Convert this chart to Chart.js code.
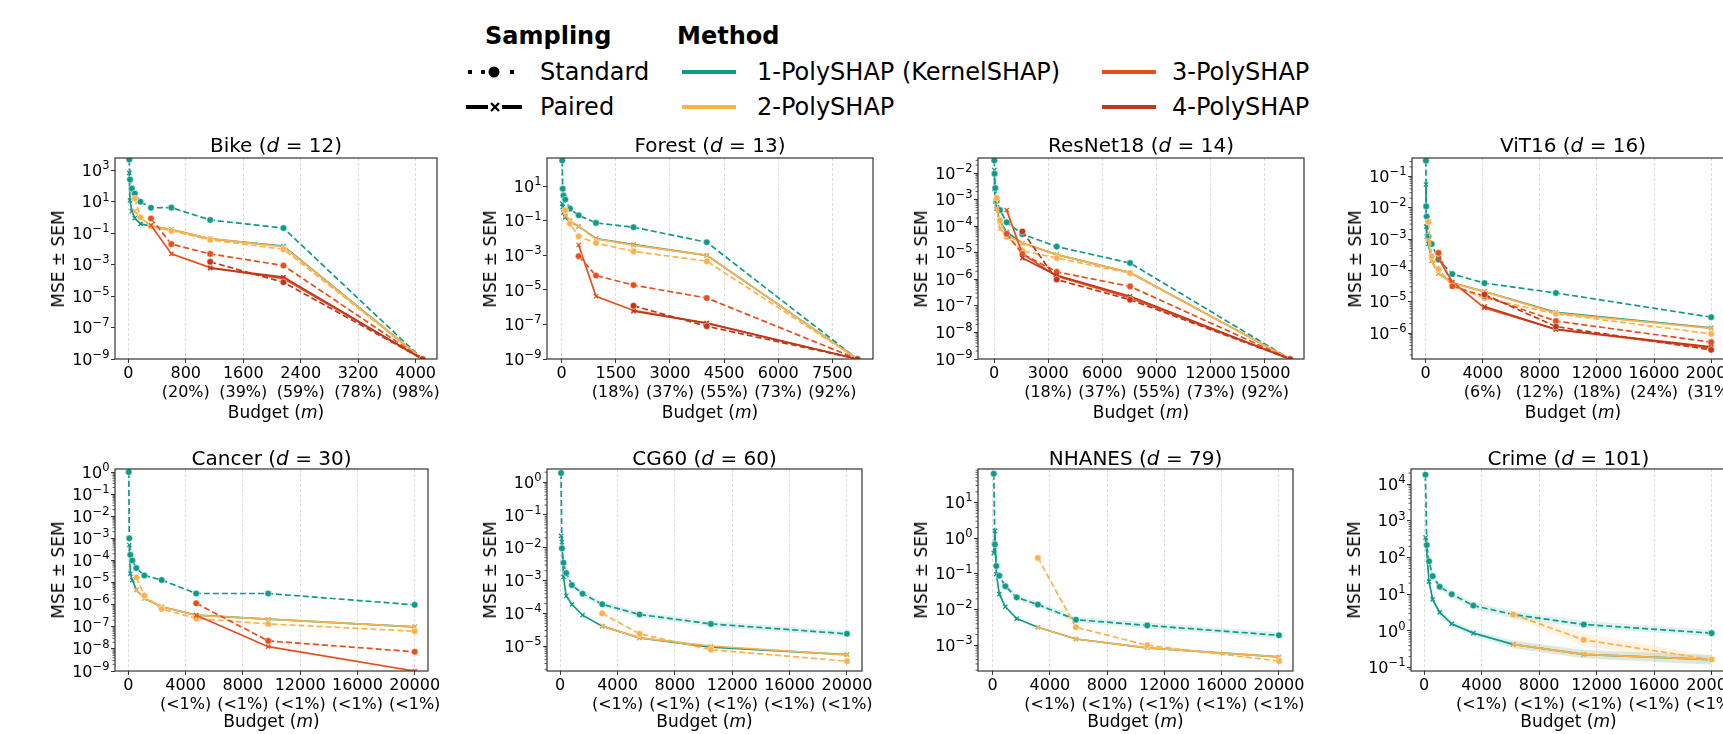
<!DOCTYPE html>
<html>
<head>
<meta charset="utf-8">
<script src="https://cdn.jsdelivr.net/npm/chart.js@4.4.1/dist/chart.umd.min.js"></script>
<style>
  html, body { margin: 0; padding: 0; background: #fff; }
  body { width: 1723px; height: 734px; overflow: hidden; position: relative; font-family: 'DejaVu Sans', sans-serif; color: #000; }
  canvas { position: absolute; }
  .t { position: absolute; white-space: nowrap; transform: translate(-50%, -50%); }
  .ptitle { font-size: 20px; }
  .xlab { font-size: 17px; }
  .ylab { font-size: 17px; transform: translate(-50%, -50%) rotate(-90deg); }
  .leg { position: absolute; white-space: nowrap; font-size: 24px; transform: translateY(-50%); }
  .sw { position: absolute; height: 4px; width: 54px; }
  svg { position: absolute; }
</style>
</head>
<body>

<div class="leg" style="left:485px;top:36px"><b>Sampling</b></div>
<div class="leg" style="left:677px;top:36px"><b>Method</b></div>

<svg style="left:465px;top:64px" width="58" height="16">
  <rect x="3" y="6" width="4" height="4" fill="#000"/>
  <rect x="16" y="6" width="4" height="4" fill="#000"/>
  <circle cx="29" cy="8" r="5.5" fill="#000"/>
  <rect x="45" y="6" width="4" height="4" fill="#000"/>
</svg>
<div class="leg" style="left:540px;top:72px">Standard</div>
<svg style="left:465px;top:99px" width="58" height="16">
  <rect x="1" y="6" width="22" height="4" fill="#000"/>
  <path d="M26 4 L34 12 M34 4 L26 12" stroke="#000" stroke-width="2.4"/>
  <rect x="37" y="6" width="20" height="4" fill="#000"/>
</svg>
<div class="leg" style="left:540px;top:107px">Paired</div>

<div class="sw" style="left:682px;top:70px;background:#109a89"></div>
<div class="leg" style="left:757px;top:72px">1-PolySHAP (KernelSHAP)</div>
<div class="sw" style="left:682px;top:105px;background:#fdb14d"></div>
<div class="leg" style="left:757px;top:107px">2-PolySHAP</div>
<div class="sw" style="left:1102px;top:70px;background:#e84e1c"></div>
<div class="leg" style="left:1172px;top:72px">3-PolySHAP</div>
<div class="sw" style="left:1102px;top:105px;background:#c0371a"></div>
<div class="leg" style="left:1172px;top:107px">4-PolySHAP</div>

<script>
// ---- data ----
// each *Standard / *Paired holds one array per method: 1-, 2-, 3-, 4-PolySHAP
const bikeBudget = [14, 24, 50, 90, 170, 316, 600, 1140, 2160, 4094];
const bikeStandard = [
  [4800, 256, 68, 33, 9.9, 4.1, 4.2, 0.69, 0.21, 1e-9],
  [null, null, null, 16, 1.0, 0.28, 0.14, 0.038, 0.0095, 1e-9],
  [null, null, null, null, null, 0.85, 0.02, 0.0048, 8.7e-4, 1e-9],
  [null, null, null, null, null, null, null, 1.5e-3, 7.5e-5, 1e-9]
];
const bikePaired = [
  [680, 12, 2.5, 0.9, 0.39, 0.28, 0.17, 0.043, 0.015, 1e-9],
  [null, null, null, 2.5, 0.95, 0.3, 0.16, 0.045, 0.014, 1e-9],
  [null, null, null, null, null, 0.32, 0.0048, 6.5e-4, 1.3e-4, 1e-9],
  [null, null, null, null, null, null, null, 6e-4, 1.6e-4, 1e-9]
];
const bikeYTicks = [3, 1, -1, -3, -5, -7, -9];
const bikeXTicks = [0, 800, 1600, 2400, 3200, 4000];
const bikeXShares = ['', '(20%)', '(39%)', '(59%)', '(78%)', '(98%)'];

const forestBudget = [15, 28, 50, 100, 230, 470, 950, 1990, 4020, 8192];
const forestStandard = [
  [316, 7.3, 2.9, 1.7, 0.51, 0.21, 0.076, 0.043, 0.0058, 1e-9],
  [null, null, null, 0.41, 0.069, 0.0126, 0.0052, 0.0017, 4.6e-4, 1e-9],
  [null, null, null, null, null, 9e-4, 6.8e-5, 1.9e-5, 3.4e-6, 1e-9],
  [null, null, null, null, null, null, null, 1.2e-6, 7.9e-8, 1e-9]
];
const forestPaired = [
  [1.0, 0.63, 0.3, 0.16, 0.09, 0.048, 0.0095, 0.0042, 0.001, 1e-9],
  [null, null, null, 0.2, 0.11, 0.048, 0.009, 0.0039, 0.001, 1e-9],
  [null, null, null, null, null, 0.004, 4.3e-6, 6.5e-7, 1.2e-7, 1e-9],
  [null, null, null, null, null, null, null, 5.8e-7, 1.2e-7, 1e-9]
];
const forestYTicks = [1, -1, -3, -5, -7, -9];
const forestXTicks = [0, 1500, 3000, 4500, 6000, 7500];
const forestXShares = ['', '(18%)', '(37%)', '(55%)', '(73%)', '(92%)'];

const resnetBudget = [16, 30, 70, 150, 330, 700, 1570, 3470, 7530, 16384];
const resnetStandard = [
  [0.030, 0.0094, 0.0027, 9e-4, 4e-4, 1.4e-4, 5e-5, 1.7e-5, 4.1e-6, 1e-9],
  [null, null, null, 1.15e-3, 1.65e-4, 4e-5, 1.2e-5, 6.3e-6, 1.7e-6, 1e-9],
  [null, null, null, null, null, 5.2e-5, 9e-6, 1.9e-6, 5.4e-7, 1e-9],
  [null, null, null, null, null, null, 6.3e-5, 9.8e-7, 1.7e-7, 1e-9]
];
const resnetPaired = [
  [0.013, 2.5e-3, 8.5e-4, 4.5e-4, 1.5e-4, 6e-5, 2.3e-5, 8.5e-6, 1.8e-6, 1e-9],
  [null, null, null, 4.8e-4, 8e-5, 4.5e-5, 2.3e-5, 8.5e-6, 1.8e-6, 1e-9],
  [null, null, null, null, null, 4e-4, 9e-6, 1.3e-6, 2e-7, 1e-9],
  [null, null, null, null, null, null, 6.3e-6, 1.4e-6, 2.3e-7, 1e-9]
];
const resnetYTicks = [-2, -3, -4, -5, -6, -7, -8, -9];
const resnetXTicks = [0, 3000, 6000, 9000, 12000, 15000];
const resnetXShares = ['', '(18%)', '(37%)', '(55%)', '(73%)', '(92%)'];

const vitBudget = [17, 35, 70, 190, 420, 890, 1870, 4120, 9120, 20000];
const vitStandard = [
  [0.316, 0.011, 0.0052, 1.2e-3, 6.9e-4, 2.2e-4, 7.6e-5, 3.9e-5, 1.9e-5, 3.2e-6],
  [null, null, null, 3.5e-3, 2.8e-4, 1.1e-4, 3.2e-5, 1.3e-5, 4.1e-6, 9.4e-7],
  [null, null, null, null, null, 3.6e-4, 3.1e-5, 1.5e-5, 2.4e-6, 5.1e-7],
  [null, null, null, null, null, null, null, 1.7e-5, 1.6e-6, 2.9e-7]
];
const vitPaired = [
  [0.055, 2.5e-3, 1.2e-3, 7e-4, 2e-4, 8e-5, 4e-5, 2.1e-5, 4.6e-6, 1.45e-6],
  [null, null, null, 9.5e-4, 2e-4, 8e-5, 3.9e-5, 2.1e-5, 4.3e-6, 1.4e-6],
  [null, null, null, null, null, 2.4e-4, 4.3e-5, 6.3e-6, 1.3e-6, 3.3e-7],
  [null, null, null, null, null, null, null, 7e-6, 1.3e-6, 3.6e-7]
];
const vitYTicks = [-1, -2, -3, -4, -5, -6];
const vitXTicks = [0, 4000, 8000, 12000, 16000, 20000];
const vitXShares = ['', '(6%)', '(12%)', '(18%)', '(24%)', '(31%)'];

const largeXTicks = [0, 4000, 8000, 12000, 16000, 20000];
const largeXShares = ['', '(<1%)', '(<1%)', '(<1%)', '(<1%)', '(<1%)'];

const cancerBudget = [31, 70, 140, 280, 560, 1120, 2330, 4740, 9770, 20000];
const cancerStandard = [
  [1.0, 1e-3, 1.8e-4, 1e-4, 4.5e-5, 2.1e-5, 1.3e-5, 3.2e-6, 3.2e-6, 9.8e-7],
  [null, null, null, null, 1.7e-5, 2.6e-6, 6.4e-7, 2.4e-7, 1.35e-7, 6.3e-8],
  [null, null, null, null, null, null, null, 1.15e-6, 2.3e-8, 7.4e-9]
];
const cancerPaired = [
  [null, 5e-4, 2.5e-5, 1.3e-5, 4.7e-6, 1.9e-6, 8e-7, 3.4e-7, 2.2e-7, 1e-7],
  [null, null, null, null, 4.7e-6, 1.9e-6, 8e-7, 3.3e-7, 2.2e-7, 1e-7],
  [null, null, null, null, null, null, null, 3.3e-7, 1.26e-8, 1e-9]
];
const cancerYTicks = [0, -1, -2, -3, -4, -5, -6, -7, -8, -9];

const cg60Budget = [61, 120, 230, 420, 815, 1560, 2930, 5535, 10510, 20000];
const cg60Standard = [
  [1.88, 9.6e-3, 3.5e-3, 1.7e-3, 7.3e-4, 4e-4, 1.9e-4, 9.3e-5, 4.8e-5, 2.4e-5],
  [null, null, null, null, null, null, 1e-4, 2.4e-5, 7.9e-6, 3.5e-6]
];
const cg60Paired = [
  [0.023, 0.015, 1.3e-3, 3.4e-4, 1.9e-4, 8.9e-5, 4.1e-5, 1.8e-5, 9.5e-6, 5.6e-6],
  [null, null, null, null, null, null, 4.1e-5, 1.8e-5, 1.02e-5, 5.5e-6]
];
const cg60Std1Low  = [1.5, 7.8e-3, 2.9e-3, 1.4e-3, 6e-4, 3.3e-4, 1.55e-4, 7.6e-5, 3.9e-5, 1.95e-5];
const cg60Std1High = [2.3, 1.18e-2, 4.3e-3, 2.1e-3, 9e-4, 4.9e-4, 2.3e-4, 1.14e-4, 5.9e-5, 2.95e-5];
const cg60YTicks = [0, -1, -2, -3, -4, -5];

const nhanesBudget = [80, 160, 260, 470, 890, 1680, 3160, 5820, 10800, 20000];
const nhanesStandard = [
  [64, 0.67, 0.166, 0.089, 0.045, 0.022, 0.0138, 0.0052, 3.6e-3, 1.9e-3],
  [null, null, null, null, null, null, 0.28, 3.2e-3, 1e-3, 3.6e-4]
];
const nhanesPaired = [
  [0.38, 1.6, 0.098, 0.027, 0.012, 5.6e-3, 3.2e-3, 1.5e-3, 8.5e-4, 4.7e-4],
  [null, null, null, null, null, null, 3.2e-3, 1.5e-3, 8.5e-4, 4.7e-4]
];
const nhanesStd1Low  = [52, 0.55, 0.14, 0.074, 0.037, 0.018, 0.0115, 0.0043, 0.003, 1.55e-3];
const nhanesStd1High = [78, 0.82, 0.2, 0.107, 0.054, 0.027, 0.0166, 0.0063, 0.0044, 2.3e-3];
const nhanesYTicks = [1, 0, -1, -2, -3];

const crimeBudget = [102, 190, 350, 600, 1090, 1930, 3430, 6200, 11110, 20000];
const crimeStandard = [
  [18000, 218, 79, 31, 16, 10, 4.9, 2.8, 1.5, 0.87],
  [null, null, null, null, null, null, null, 2.8, 0.57, 0.166]
];
const crimePaired = [
  [350, null, 22, 7.2, 3.2, 1.56, 0.87, 0.43, 0.23, 0.166],
  [null, null, null, null, null, null, null, 0.43, 0.23, 0.166]
];
const crimeStd1Low   = [14000, 170, 64, 25, 13, 8.0, 3.9, 2.2, 1.2, 0.70];
const crimeStd1High  = [23000, 280, 97, 38, 20, 12.5, 6.0, 3.5, 1.9, 1.08];
const crimePair1Low  = [280, null, 18, 5.9, 2.6, 1.25, 0.70, 0.34, 0.18, 0.12];
const crimePair1High = [440, null, 27, 8.8, 3.9, 1.95, 1.08, 0.55, 0.30, 0.22];
const crimeStd2Low   = [null, null, null, null, null, null, null, 2.3, 0.38, 0.13];
const crimeStd2High  = [null, null, null, null, null, null, null, 3.4, 0.85, 0.21];
const crimePair2Low  = [null, null, null, null, null, null, null, 0.34, 0.18, 0.12];
const crimePair2High = [null, null, null, null, null, null, null, 0.55, 0.30, 0.22];
const crimeYTicks = [4, 3, 2, 1, 0, -1];

// ---- layout ----
const methodColors = ['#109a89', '#fdb14d', '#e84e1c', '#c0371a'];
const bandColors = ['rgba(16,154,137,0.13)', 'rgba(253,177,77,0.15)', 'rgba(232,78,28,0.12)', 'rgba(192,55,26,0.12)'];
const AXW = 62, PADT = 12, PADR = 30, XH = 52;

const panels = [
  { name: 'Bike', d: 12, budget: bikeBudget, std: bikeStandard, pair: bikePaired, yt: bikeYTicks, xt: bikeXTicks, xs: bikeXShares,
    box: [115, 158, 437, 359], xr: [-185, 4297], yr: [1e-9, 6000], minor: false, bands: [] },
  { name: 'Forest', d: 13, budget: forestBudget, std: forestStandard, pair: forestPaired, yt: forestYTicks, xt: forestXTicks, xs: forestXShares,
    box: [547, 158, 873, 359], xr: [-407, 8626], yr: [1e-9, 437], minor: false, bands: [] },
  { name: 'ResNet18', d: 14, budget: resnetBudget, std: resnetStandard, pair: resnetPaired, yt: resnetYTicks, xt: resnetXTicks, xs: resnetXShares,
    box: [978, 158, 1304, 359], xr: [-886, 17160], yr: [1e-9, 0.0367], minor: true, bands: [] },
  { name: 'ViT16', d: 16, budget: vitBudget, std: vitStandard, pair: vitPaired, yt: vitYTicks, xt: vitXTicks, xs: vitXShares,
    box: [1412, 158, 1734, 359], xr: [-960, 21600], yr: [1.48e-7, 0.385], minor: true, bands: [] },
  { name: 'Cancer', d: 30, budget: cancerBudget, std: cancerStandard, pair: cancerPaired, yt: cancerYTicks, xt: largeXTicks, xs: largeXShares,
    box: [115, 469, 428, 671], xr: [-930, 20930], yr: [1e-9, 1.37], minor: true, bands: [] },
  { name: 'CG60', d: 60, budget: cg60Budget, std: cg60Standard, pair: cg60Paired, yt: cg60YTicks, xt: largeXTicks, xs: largeXShares,
    box: [547, 469, 862, 671], xr: [-920, 21050], yr: [1.77e-6, 2.5], minor: true,
    bands: [{ m: 0, lo: cg60Std1Low, hi: cg60Std1High }] },
  { name: 'NHANES', d: 79, budget: nhanesBudget, std: nhanesStandard, pair: nhanesPaired, yt: nhanesYTicks, xt: largeXTicks, xs: largeXShares,
    box: [978, 469, 1293, 671], xr: [-1020, 20980], yr: [1.9e-4, 87], minor: true,
    bands: [{ m: 0, lo: nhanesStd1Low, hi: nhanesStd1High }] },
  { name: 'Crime', d: 101, budget: crimeBudget, std: crimeStandard, pair: crimePaired, yt: crimeYTicks, xt: largeXTicks, xs: largeXShares,
    box: [1411, 469, 1726, 671], xr: [-905, 21000], yr: [0.081, 25700], minor: true,
    bands: [{ m: 0, lo: crimeStd1Low, hi: crimeStd1High }, { m: 0, lo: crimePair1Low, hi: crimePair1High },
            { m: 1, lo: crimeStd2Low, hi: crimeStd2High }, { m: 1, lo: crimePair2Low, hi: crimePair2High }] }
];

// spines, minor log ticks and 10^n tick labels
const framePlugin = {
  id: 'frame',
  afterDatasetsDraw(chart, args, opts) {
    const { ctx, chartArea: a } = chart;
    const ys = chart.scales.y;
    ctx.save();
    ctx.strokeStyle = '#333';
    if (opts.minor) {
      ctx.lineWidth = 0.8;
      const lo = Math.floor(Math.log10(ys.min)), hi = Math.ceil(Math.log10(ys.max));
      for (let e = lo; e <= hi; e++) {
        for (let k = 2; k <= 9; k++) {
          const v = k * Math.pow(10, e);
          if (v < ys.min || v > ys.max) continue;
          const py = ys.getPixelForValue(v);
          ctx.beginPath(); ctx.moveTo(a.left - 2.5, py); ctx.lineTo(a.left, py); ctx.stroke();
        }
      }
    }
    ctx.lineWidth = 1.2;
    ctx.strokeRect(a.left, a.top, a.right - a.left, a.bottom - a.top);

    ctx.fillStyle = '#000';
    ctx.textAlign = 'right';
    ctx.textBaseline = 'alphabetic';
    opts.yt.forEach(e => {
      const py = ys.getPixelForValue(Math.pow(10, e));
      const xr = a.left - 5.5;
      const es = e < 0 ? '\u2212' + (-e) : String(e);
      ctx.font = "11.5px 'DejaVu Sans'";
      ctx.fillText(es, xr, py - 1.2);
      const ew = ctx.measureText(es).width;
      ctx.font = "16px 'DejaVu Sans'";
      ctx.fillText('10', xr - ew, py + 5.6);
    });
    ctx.restore();
  }
};

Chart.defaults.font.family = "'DejaVu Sans', sans-serif";

function addText(cls, html, x, y) {
  const el = document.createElement('div');
  el.className = 't ' + cls;
  el.innerHTML = html;
  el.style.left = x + 'px';
  el.style.top = y + 'px';
  document.body.appendChild(el);
}

panels.forEach((p, idx) => {
  const [L, T, R, B] = p.box;
  const W = R - L + AXW + PADR, H = B - T + PADT + XH;
  const cv = document.createElement('canvas');
  cv.width = W; cv.height = H;
  cv.style.left = (L - AXW) + 'px';
  cv.style.top = (T - PADT) + 'px';
  cv.style.width = W + 'px';
  cv.style.height = H + 'px';
  document.body.appendChild(cv);

  const row2 = idx >= 4;
  addText('ptitle', p.name + ' (<i>d</i> = ' + p.d + ')', (L + R) / 2, row2 ? 458 : 145);
  addText('xlab', 'Budget (<i>m</i>)', (L + R) / 2, B + (row2 ? 50 : 53));
  addText('ylab', 'MSE \u00b1 SEM', L - 57, (T + B) / 2);

  const toPts = vals => p.budget.map((b, i) => ({ x: b, y: vals[i] })).filter(q => q.y !== null);

  // later methods drawn on top (index 0 is drawn last)
  const datasets = [];
  for (let m = p.std.length - 1; m >= 0; m--) {
    const col = methodColors[m];
    datasets.push({
      data: toPts(p.std[m]), borderColor: col, borderWidth: 1.7, borderDash: [6, 3], fill: false,
      pointStyle: 'circle', pointRadius: 3.3, pointBackgroundColor: col, pointBorderColor: '#fff', pointBorderWidth: 0.5
    });
    datasets.push({
      data: toPts(p.pair[m]), borderColor: col, borderWidth: 1.7, fill: false,
      pointStyle: 'crossRot', pointRadius: 3, pointBorderColor: col, pointBorderWidth: 1.3
    });
  }
  // SEM bands underneath everything
  p.bands.forEach(bd => {
    datasets.push({ data: toPts(bd.lo), borderWidth: 0, pointRadius: 0, fill: false });
    datasets.push({ data: toPts(bd.hi), borderWidth: 0, pointRadius: 0, fill: '-1', backgroundColor: bandColors[bd.m] });
  });

  new Chart(cv, {
    type: 'line',
    data: { datasets },
    options: {
      responsive: false,
      animation: false,
      events: [],
      layout: { padding: { left: 0, top: PADT, right: PADR, bottom: 0 } },
      plugins: { legend: { display: false }, tooltip: { enabled: false }, frame: { minor: p.minor, yt: p.yt } },
      scales: {
        x: {
          type: 'linear', min: p.xr[0], max: p.xr[1], bounds: 'data',
          afterBuildTicks: s => { s.ticks = p.xt.map(v => ({ value: v })); },
          afterFit: s => { s.height = XH; },
          ticks: {
            autoSkip: false, maxRotation: 0, minRotation: 0, padding: 1, color: '#000', font: { size: 16 },
            callback: (v, i) => v === 0 ? '0' : [String(v), p.xs[i]]
          },
          grid: { color: '#d4d4d4', lineWidth: 0.8, tickLength: 4, tickColor: '#333', tickWidth: 1 },
          border: { display: false, dash: [3, 2] }
        },
        y: {
          type: 'logarithmic', min: p.yr[0], max: p.yr[1], bounds: 'data',
          afterBuildTicks: s => { s.ticks = p.yt.map(e => ({ value: Math.pow(10, e) })); },
          afterFit: s => { s.width = AXW; },
          ticks: { display: false },
          grid: { drawOnChartArea: false, tickLength: 4, tickColor: '#333', tickWidth: 1 },
          border: { display: false }
        }
      }
    },
    plugins: [framePlugin]
  });
});
</script>
</body>
</html>
